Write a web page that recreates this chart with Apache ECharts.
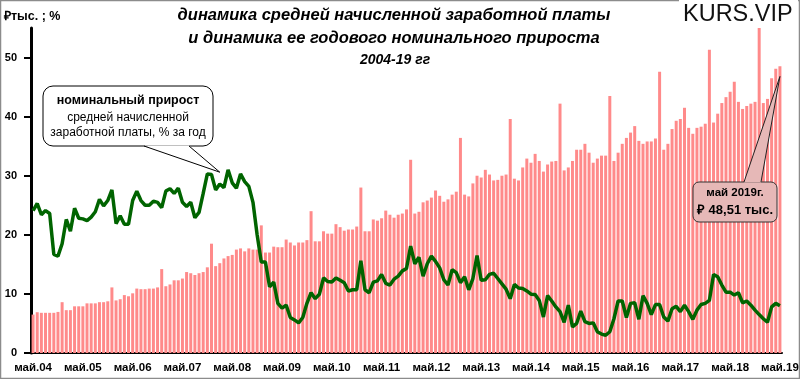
<!DOCTYPE html>
<html><head><meta charset="utf-8">
<script src="https://cdn.jsdelivr.net/npm/echarts@6/dist/echarts.min.js"></script>
<style>html,body{margin:0;padding:0;background:#fff}#c{width:800px;height:379px}</style>
</head><body><div id="c"></div>
<script>
// Category labels: monthly, May 2004 .. May 2019
const monthNames = ['янв','фев','мар','апр','май','июн','июл','авг','сен','окт','ноя','дек'];
const startYear = 2004, startMonth = 4, monthCount = 181;
const categories = [];
for (let k = 0; k < monthCount; k++) {
  const m = (startMonth + k) % 12;
  const y = startYear + Math.floor((startMonth + k) / 12);
  categories.push(monthNames[m] + '.' + String(y).slice(2));
}
const yTicks = [0, 10, 20, 30, 40, 50];

// Average accrued monthly wage, thousand roubles
const salary = [
  6.5, 6.9, 6.8, 6.8, 6.8, 6.8, 6.95, 8.6,                 // May-Dec 2004
  7.25, 7.25, 7.9, 7.9, 7.9, 8.4, 8.4, 8.4, 8.6, 8.6, 8.75, 11.1,   // 2005
  8.9, 9.1, 9.8, 9.6, 10.1, 10.9, 10.8, 10.8, 10.9, 10.9, 11.1, 14.2, // 2006
  11.3, 11.6, 12.3, 12.3, 12.6, 13.7, 13.5, 13.2, 13.5, 13.7, 14.5, 18.5, // 2007
  14.7, 15.2, 16.0, 16.4, 16.6, 17.5, 17.7, 17.2, 17.7, 17.5, 17.5, 21.6, // 2008
  17.0, 17.0, 18.0, 17.9, 17.9, 19.2, 18.7, 18.2, 18.7, 18.7, 19.1, 24.0, // 2009
  18.9, 18.9, 20.6, 20.2, 20.2, 21.8, 21.3, 20.7, 20.9, 20.9, 21.4, 28.0, // 2010
  20.6, 20.6, 22.6, 22.4, 22.8, 24.1, 23.4, 22.9, 23.4, 23.6, 24.3, 32.7, // 2011
  23.6, 23.9, 25.5, 25.8, 26.3, 27.5, 26.6, 25.6, 26.0, 26.8, 27.3, 36.4, // 2012
  26.8, 26.5, 28.7, 30.0, 29.7, 31.0, 30.2, 29.2, 29.3, 30.0, 30.2, 39.6, // 2013
  29.5, 29.2, 31.4, 32.9, 32.2, 33.7, 32.5, 30.7, 31.9, 32.4, 32.5, 42.2, // 2014
  30.9, 31.4, 32.5, 34.4, 34.4, 35.4, 33.9, 32.2, 32.9, 33.4, 33.4, 43.5, // 2015
  32.5, 33.9, 35.4, 36.4, 37.3, 38.4, 35.9, 35.4, 35.8, 35.8, 36.3, 47.6, // 2016
  34.4, 35.4, 37.9, 39.3, 39.6, 41.5, 38.1, 37.1, 38.1, 38.3, 38.8, 51.3, // 2017
  39.0, 40.5, 42.3, 43.3, 44.2, 45.9, 42.5, 41.3, 41.8, 42.2, 42.5, 55.3, // 2018
  42.3, 43.0, 46.5, 48.1, 48.51                                   // Jan-May 2019
];

// Nominal year-on-year growth, %
const growth = [
  24.1, 25.3, 23.4, 24.1, 23.6, 16.7, 16.4, 18.5,
  22.6, 20.6, 24.5, 22.8, 22.7, 22.4, 23.0, 23.9, 26.0, 24.9, 25.8, 27.6,
  21.9, 23.2, 21.8, 21.8, 25.8, 27.4, 25.8, 25.0, 25.0, 25.7, 25.5, 24.6,
  27.4, 27.8, 27.0, 27.9, 25.5, 24.8, 25.5, 22.9, 23.8, 27.0, 30.3, 30.2,
  27.6, 28.6, 28.0, 31.0, 28.8, 27.9, 30.3, 29.0, 28.2, 25.5, 20.0, 15.4,
  15.4, 11.2, 12.0, 8.4, 7.6, 8.1, 6.0, 5.6, 5.1, 6.0, 8.4, 10.2,
  9.2, 9.95, 12.7, 12.1, 12.0, 12.7, 12.3, 11.9, 10.5, 10.7, 10.7, 15.6,
  10.7, 10.2, 12.0, 12.2, 13.3, 11.8, 11.5, 12.5, 13.0, 13.9, 14.3, 18.1,
  15.1, 16.2, 13.0, 15.1, 16.4, 15.5, 14.4, 12.4, 11.5, 14.1, 13.6, 11.9,
  12.9, 10.7, 12.6, 16.5, 12.3, 12.4, 13.3, 13.5, 12.6, 11.7, 10.8, 9.2,
  11.6, 11.0, 10.9, 10.5, 9.95, 9.9, 8.9, 6.1, 9.7, 8.8, 7.8, 7.0,
  5.2, 8.1, 4.4, 5.0, 7.1, 5.3, 5.0, 5.1, 3.6, 3.2, 3.0, 3.6,
  5.8, 8.8, 8.8, 6.0, 8.4, 8.5, 5.7, 9.7, 8.4, 6.5, 8.2, 8.2,
  6.1, 5.4, 7.5, 7.9, 7.0, 8.1, 7.0, 5.7, 7.25, 8.2, 8.4, 8.9,
  13.3, 12.9, 11.5, 10.3, 10.3, 9.8, 10.2, 8.5, 8.8, 8.1, 7.25, 6.5,
  5.8, 5.2, 7.8, 8.4, 8.0
];

const FONT = 'Liberation Sans';
const chart = echarts.init(document.getElementById('c'), null, {renderer: 'canvas'});
chart.setOption({
  animation: false,
  backgroundColor: '#fff',
  grid: {left: 31, right: 18, top: 28, bottom: 26, containLabel: false, outerBoundsMode: 'none'},
  xAxis: {
    type: 'category', data: categories, boundaryGap: true,
    axisLine: {lineStyle: {color: '#000', width: 2}},
    axisTick: {show: false},
    axisLabel: {interval: 11, fontFamily: FONT, fontWeight: 'bold', fontSize: 11.5, color: '#000', margin: 9}
  },
  yAxis: {
    type: 'value', min: 0, max: 55, interval: 10,
    splitLine: {show: false},
    axisLine: {show: true, lineStyle: {color: '#000', width: 3}},
    axisTick: {show: true, length: 7, lineStyle: {color: '#000', width: 2}, customValues: yTicks},
    axisLabel: {fontFamily: FONT, fontWeight: 'bold', fontSize: 11, color: '#000', margin: 14, customValues: yTicks}
  },
  series: [
    {type: 'bar', data: salary, barCategoryGap: '28%', clip: false,
     itemStyle: {color: '#ff8a8a'}, z: 2},
    {type: 'line', data: growth, symbol: 'none', smooth: false,
     lineStyle: {color: '#006400', width: 3.5}, z: 3}
  ]
});

const tipL = chart.convertToPixel({xAxisIndex: 0, yAxisIndex: 0}, [45, 30.6]);
const tipR = chart.convertToPixel({xAxisIndex: 0, yAxisIndex: 0}, [180, 46.8]);

function txt(x, y, text, size, weight, extra) {
  return Object.assign({type: 'text', x: x, y: y, z: 100,
    style: Object.assign({text: text, fontFamily: FONT, fontSize: size, fontWeight: weight || 'normal',
      fill: '#000', align: 'center', verticalAlign: 'middle'}, extra || {})});
}

chart.setOption({
  graphic: [
    {type: 'rect', z: 90, shape: {x: 0.5, y: 0.5, width: 799, height: 378}, style: {fill: 'none', stroke: '#8c8c8c', lineWidth: 1.5}},
    {type: 'rect', z: 95, shape: {x: 679, y: 0, width: 119, height: 28}, style: {fill: '#fff'}},
    txt(683, 15, 'KURS.VIP', 23.5, 'normal', {align: 'left', fill: '#111'}),
    txt(4, 17, '₽тыс. ; %', 12.5, 'bold', {align: 'left'}),
    txt(394, 15, 'динамика средней начисленной заработной платы', 16.5, 'bold', {fontStyle: 'italic'}),
    txt(394, 38, 'и динамика ее годового номинального прироста', 16.5, 'bold', {fontStyle: 'italic'}),
    txt(395, 60, '2004-19 гг', 14, 'bold', {fontStyle: 'italic'}),
    // left callout
    {type: 'rect', z: 96, shape: {x: 43, y: 86, width: 170, height: 60, r: 10}, style: {fill: '#fff', stroke: '#000', lineWidth: 1}},
    {type: 'polygon', z: 97, shape: {points: [[144, 145.5], [189, 145.5], tipL]}, style: {fill: '#fff'}},
    {type: 'polyline', z: 98, shape: {points: [[144, 146], tipL, [189, 146]]}, style: {stroke: '#000', lineWidth: 1, fill: 'none'}},
    txt(128, 101, 'номинальный прирост', 12.5, 'bold'),
    txt(128, 117.5, 'средней начисленной', 12, 'normal'),
    txt(128, 133, 'заработной платы, % за год', 12, 'normal'),
    // right callout
    {type: 'rect', z: 96, shape: {x: 693, y: 182, width: 84, height: 40, r: 6}, style: {fill: '#e6b8b7', stroke: '#333', lineWidth: 1}},
    {type: 'polygon', z: 97, shape: {points: [[744, 182.5], [761, 182.5], tipR]}, style: {fill: '#e6b8b7'}},
    {type: 'polyline', z: 98, shape: {points: [[744, 182], tipR, [761, 182]]}, style: {stroke: '#222', lineWidth: 1, fill: 'none'}},
    txt(735, 193, 'май 2019г.', 11.5, 'bold'),
    txt(735, 210, '₽ 48,51 тыс.', 13, 'bold')
  ]
});
</script>
</body></html>
